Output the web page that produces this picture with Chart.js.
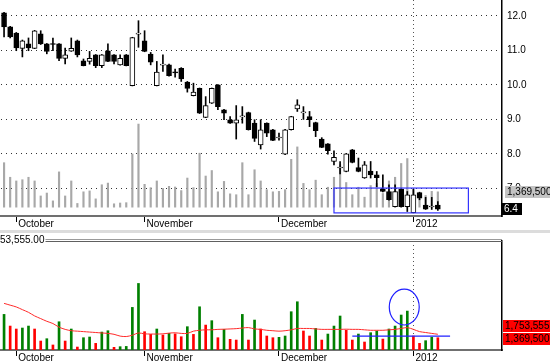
<!DOCTYPE html>
<html lang="en">
<head>
<meta charset="UTF-8">
<title>Price and volume</title>
<style>
  body { margin: 0; background: #fff; }
  .wrap { position: relative; width: 550px; height: 364px; overflow: hidden; }
  .sep { position: absolute; left: 0; top: 230px; width: 550px; height: 3px; background: #dcdcdc; }
  #priceBox { position: absolute; left: 0; top: 0; width: 550px; height: 232px; }
  #volBox { position: absolute; left: 0; top: 228px; width: 550px; height: 136px; }
</style>
<script src="https://cdn.jsdelivr.net/npm/chart.js"></script>
</head>
<body>
<div class="wrap">
  <div class="sep"></div>
  <div id="priceBox"><canvas id="priceChart"></canvas></div>
  <div id="volBox"><canvas id="volChart"></canvas></div>
</div>

<script>
// trading days, Sep 29 2011 .. Jan 6 2012
const dates = [
  'Sep 29','Sep 30',
  'Oct 3','Oct 4','Oct 5','Oct 6','Oct 7','Oct 10','Oct 11','Oct 12','Oct 13','Oct 14',
  'Oct 17','Oct 18','Oct 19','Oct 20','Oct 21','Oct 24','Oct 25','Oct 26','Oct 27','Oct 28','Oct 31',
  'Nov 1','Nov 2','Nov 3','Nov 4','Nov 7','Nov 8','Nov 9','Nov 10','Nov 11','Nov 14','Nov 15',
  'Nov 16','Nov 17','Nov 18','Nov 21','Nov 22','Nov 23','Nov 24','Nov 25','Nov 28','Nov 29','Nov 30',
  'Dec 1','Dec 2','Dec 5','Dec 6','Dec 7','Dec 8','Dec 9','Dec 12','Dec 13','Dec 14','Dec 15',
  'Dec 16','Dec 19','Dec 20','Dec 21','Dec 22','Dec 23','Dec 26','Dec 27','Dec 28','Dec 29','Dec 30',
  'Jan 2','Jan 3','Jan 4','Jan 5','Jan 6'
];
const futureSlots = 10; // empty space right of the last bar
const monthTicks = { 'Oct 3': 'October', 'Nov 1': 'November', 'Dec 1': 'December', 'Jan 2': '2012' };
const yearTick = 'Jan 2';

const open = [12.09,11.68,11.50,11.06,11.19,11.06,11.48,11.19,11.20,11.19,
  10.77,10.98,11.28,10.70,10.68,10.87,10.56,10.99,10.87,10.58,
  10.87,9.98,11.47,11.28,10.89,9.98,10.57,10.58,10.38,10.48,
  10.08,9.69,9.90,9.06,9.47,10.00,9.28,8.99,8.89,9.07,
  9.20,8.89,8.26,8.89,8.70,8.46,7.99,8.70,9.30,9.19,
  9.08,8.91,8.43,8.29,7.78,7.59,7.49,8.12,7.60,7.30,
  7.50,7.39,6.99,6.91,6.47,6.98,6.47,6.30,6.88,6.52,
  6.46,6.52];
const high = [12.10,11.70,11.52,11.30,11.36,11.58,11.57,11.20,11.36,11.20,
  11.07,11.36,11.30,10.75,10.97,10.88,10.88,11.19,10.88,10.87,
  10.88,11.38,11.86,11.57,10.94,10.68,10.87,10.60,10.46,10.50,
  10.10,10.05,9.91,9.66,9.91,10.01,9.29,9.08,9.40,9.37,
  9.21,8.99,8.99,8.90,8.71,8.60,8.71,9.09,9.57,9.37,
  9.23,8.92,8.47,8.30,8.09,7.78,8.01,8.13,7.88,7.78,
  7.78,7.49,7.39,7.10,7.10,6.99,6.91,6.98,6.89,6.74,
  6.74,6.62];
const low = [11.39,11.36,10.99,10.81,10.99,11.05,11.17,10.90,10.99,10.70,
  10.61,10.97,10.81,10.55,10.60,10.50,10.50,10.67,10.61,10.57,
  10.55,9.97,11.09,10.96,10.58,9.97,10.39,10.25,10.22,10.10,
  9.79,9.68,9.17,9.05,9.46,9.28,8.99,8.88,8.43,8.89,
  8.69,8.36,8.14,8.50,8.38,8.40,7.98,8.69,9.23,9.00,
  8.79,8.50,8.18,7.99,7.68,7.42,7.48,7.74,7.48,7.29,
  7.30,7.05,6.90,6.66,6.46,6.46,6.33,6.29,6.67,6.39,
  6.39,6.36];
const close = [11.68,11.39,11.07,11.28,11.07,11.57,11.19,10.97,11.17,10.77,
  10.87,11.06,10.87,10.56,10.77,10.56,10.87,10.68,10.68,10.77,
  10.56,11.37,11.50,10.97,10.66,10.37,10.60,10.27,10.35,10.17,
  9.90,9.79,9.18,9.40,9.90,9.37,9.18,8.89,8.99,9.10,
  8.70,8.45,8.70,8.60,8.39,8.49,8.70,9.08,9.42,9.22,
  8.99,8.67,8.19,8.09,7.90,7.62,8.00,7.75,7.49,7.68,
  7.39,7.31,6.91,6.67,6.91,6.47,6.81,6.81,6.72,6.40,
  6.49,6.40];

// volume, millions of shares
const volume = [3.97,2.67,2.34,2.45,2.67,2.34,1.00,1.26,0.56,3.15,
  1.00,2.34,0.33,1.37,1.45,0.74,2.00,2.15,0.30,0.37,
  0.40,4.75,7.42,2.04,1.74,2.34,1.67,1.86,1.80,1.48,
  2.60,1.74,4.82,2.78,3.27,1.37,2.30,1.19,1.11,3.97,
  1.11,3.34,2.34,1.56,1.37,1.41,1.56,4.27,5.38,2.12,
  1.56,2.41,1.11,1.78,2.67,3.79,2.20,1.11,1.78,0.89,
  1.93,2.12,1.22,2.34,2.67,3.90,4.34,1.56,0.74,1.04,
  1.41,1.3695];
// volume moving average, millions
const volumeAvg = [5.20,5.00,4.80,4.50,4.20,3.80,3.50,3.20,2.95,2.55,
  2.30,2.15,2.10,2.05,2.00,1.95,1.90,1.85,1.75,1.55,
  1.50,1.65,1.90,1.80,1.78,1.78,1.80,1.88,1.92,1.85,
  1.85,2.10,2.20,2.25,2.25,2.30,2.32,2.35,2.38,2.45,
  2.50,2.35,2.30,2.20,2.15,2.10,2.15,2.25,2.40,2.40,
  2.40,2.35,2.30,2.30,2.30,2.30,2.32,2.30,2.30,2.25,
  2.20,2.20,2.20,2.25,2.30,2.40,2.50,2.30,2.05,1.95,
  1.85,1.753555];

// hand drawn marks (bar index / value units)
const priceBox = { from: 54, to: 76, low: 6.29, high: 7.01 };
const volLevel = { from: 57, to: 73, value: 1.55 };
const volCircle = { at: 65.5, value: 4.79, rx: 2.45, ry: 2.0 };
const volPanelTitle = '53,555.00';

const labels = dates.concat(Array(futureSlots).fill(''));
const isUp = close.map((c, i) => c >= open[i]);
const volUp = volume.map((v, i) => i === 0 || v >= volume[i - 1]);
const fmt = v => Math.round(v * 1e6).toLocaleString('en-US');

Chart.defaults.font.family = '"Liberation Sans", Arial, sans-serif';
Chart.defaults.font.size = 10;
Chart.defaults.color = '#000';

function xAxis(h) {
    return {
        offset: true,
        grid: {
            offset: false,
            color: c => labels[c.index] === yearTick ? '#555' : 'transparent',
            tickColor: c => monthTicks[labels[c.index]] ? '#000' : 'transparent',
            tickLength: 6
        },
        border: { display: true, color: '#707070', width: 2, dash: [1, 3] },
        ticks: {
            autoSkip: false, maxRotation: 0, align: 'start', padding: -4, labelOffset: 2,
            callback: (v, i) => monthTicks[labels[i]] || ''
        },
        afterFit: s => { s.height = h; s.paddingLeft = 0; s.paddingRight = 0; }
    };
}

function valueTag(ctx, text, x, yc, w, bg, fg) {
    ctx.fillStyle = bg;
    ctx.fillRect(x, Math.round(yc - 6), w, 12);
    ctx.fillStyle = fg;
    ctx.textAlign = 'left';
    ctx.textBaseline = 'middle';
    ctx.fillText(text, x + 2, yc + 0.5);
}

const priceMarks = {
    id: 'priceMarks',
    afterDatasetsDraw(chart) {
        const { ctx, scales: { x, y } } = chart;
        ctx.save();
        ctx.strokeStyle = '#3434ff';
        ctx.lineWidth = 1.2;
        const x1 = x.getPixelForValue(priceBox.from), x2 = x.getPixelForValue(priceBox.to);
        const y1 = y.getPixelForValue(priceBox.high), y2 = y.getPixelForValue(priceBox.low);
        ctx.strokeRect(x1, y1, x2 - x1, y2 - y1);
        ctx.restore();
    },
    afterDraw(chart) {
        const { ctx, scales: { y, yv } } = chart;
        ctx.save();
        ctx.font = '10px "Liberation Sans", Arial, sans-serif';
        const last = close.length - 1;
        const py = y.getPixelForValue(close[last]);
        const vy = Math.min(yv.getPixelForValue(volume[last]), py - 14);
        valueTag(ctx, fmt(volume[last]), 505, vy, 45, '#c4c4c4', '#000');
        valueTag(ctx, close[last].toFixed(1), 502, py, 20, '#000', '#fff');
        ctx.restore();
    }
};

const volMarks = {
    id: 'volMarks',
    afterDatasetsDraw(chart) {
        const { ctx, chartArea, scales: { x, y } } = chart;
        ctx.save();
        ctx.strokeStyle = '#2020ff';
        ctx.lineWidth = 1.2;
        const ly = y.getPixelForValue(volLevel.value);
        ctx.beginPath();
        ctx.moveTo(x.getPixelForValue(volLevel.from), ly);
        ctx.lineTo(x.getPixelForValue(volLevel.to), ly);
        ctx.stroke();
        const cx = x.getPixelForValue(volCircle.at), cy = y.getPixelForValue(volCircle.value);
        const rx = x.getPixelForValue(volCircle.at + volCircle.rx) - cx;
        const ry = cy - y.getPixelForValue(volCircle.value + volCircle.ry);
        ctx.beginPath();
        ctx.ellipse(cx, cy, rx, ry, 0, 0, Math.PI * 2);
        ctx.stroke();
        ctx.restore();
    },
    afterDraw(chart) {
        const { ctx, chartArea, scales: { y } } = chart;
        ctx.save();
        ctx.font = '10px "Liberation Sans", Arial, sans-serif';
        // panel frame top with title
        const tw = ctx.measureText(volPanelTitle).width;
        ctx.strokeStyle = '#9a9a9a';
        ctx.lineWidth = 1;
        ctx.beginPath();
        ctx.moveTo(tw + 1, chartArea.top - 1.5); ctx.lineTo(chartArea.right, chartArea.top - 1.5);
        ctx.stroke();
        ctx.strokeStyle = '#606060';
        ctx.beginPath();
        ctx.moveTo(tw + 1, chartArea.top + 0.5); ctx.lineTo(chartArea.right, chartArea.top + 0.5);
        ctx.stroke();
        ctx.fillStyle = '#000';
        ctx.textAlign = 'left';
        ctx.textBaseline = 'middle';
        ctx.fillText(volPanelTitle, 0, chartArea.top - 0.5);
        // last values
        const last = volume.length - 1;
        const vy = y.getPixelForValue(volume[last]) + 1;
        const ay = Math.min(y.getPixelForValue(volumeAvg[last]), vy - 13);
        valueTag(ctx, fmt(volumeAvg[last]), 503, ay, 47, '#ff0000', '#000');
        valueTag(ctx, fmt(volume[last]), 503, vy, 47, '#ff0000', '#000');
        ctx.restore();
    }
};

new Chart(document.getElementById('priceChart'), {
    type: 'bar',
    data: {
        labels: labels,
        datasets: [{
            label: 'Volume',
            data: volume,
            yAxisID: 'yv',
            backgroundColor: '#a8a8a8',
            barThickness: 1.5,
            grouped: false,
            order: 3
        }, {
            label: 'High-Low',
            data: low.map((l, i) => [l, high[i]]),
            backgroundColor: '#000',
            barThickness: 1,
            grouped: false,
            order: 2
        }, {
            label: 'Open-Close',
            data: open.map((o, i) => [o, close[i]]),
            backgroundColor: isUp.map(u => u ? '#fff' : '#000'),
            borderColor: '#000',
            borderWidth: 1,
            borderSkipped: false,
            barThickness: 5,
            grouped: false,
            order: 1
        }]
    },
    options: {
        animation: false,
        responsive: true,
        maintainAspectRatio: false,
        layout: { padding: { left: 1, top: 0, right: 0, bottom: 0 } },
        plugins: { legend: { display: false }, tooltip: { enabled: false } },
        scales: {
            x: xAxis(16),
            y: {
                position: 'right',
                min: 6.2,
                max: 12.46,
                grid: { color: '#333', drawTicks: false },
                border: { display: true, color: '#000', width: 1.5, dash: [1, 4] },
                ticks: { stepSize: 1, includeBounds: false, padding: 5, callback: v => v.toFixed(1) },
                afterFit: s => { s.width = 48; s.paddingTop = 0; s.paddingBottom = 0; }
            },
            yv: { display: false, min: -0.79, max: 18.5 }
        }
    },
    plugins: [priceMarks]
});

new Chart(document.getElementById('volChart'), {
    type: 'bar',
    data: {
        labels: labels,
        datasets: [{
            type: 'line',
            label: 'Average',
            data: volumeAvg,
            borderColor: '#ff2a2a',
            borderWidth: 1,
            pointRadius: 0,
            tension: 0.3,
            order: 1
        }, {
            label: 'Volume',
            data: volume,
            backgroundColor: volUp.map(u => u ? '#008000' : '#ff0000'),
            barThickness: 2,
            grouped: false,
            order: 2
        }]
    },
    options: {
        animation: false,
        responsive: true,
        maintainAspectRatio: false,
        layout: { padding: { left: 1, top: 13, right: 0, bottom: 0 } },
        plugins: { legend: { display: false }, tooltip: { enabled: false } },
        scales: {
            x: xAxis(14),
            y: {
                position: 'right',
                min: 0,
                max: 12.153555,
                grid: { display: false },
                border: { display: true, color: '#000', width: 1.5 },
                ticks: { display: false },
                afterFit: s => { s.width = 48; s.paddingTop = 0; s.paddingBottom = 0; }
            }
        }
    },
    plugins: [volMarks]
});
</script>
</body>
</html>
